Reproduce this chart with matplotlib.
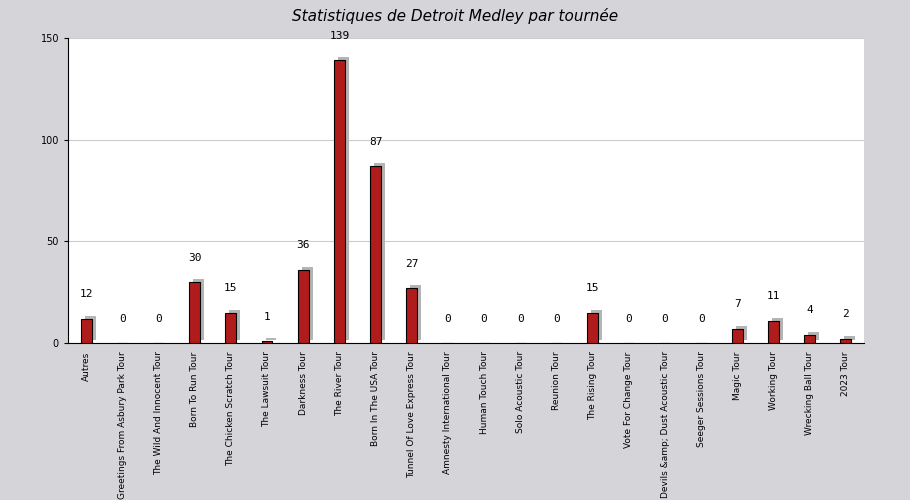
import matplotlib
matplotlib.use("Agg")
import matplotlib.pyplot as plt
from matplotlib.transforms import ScaledTranslation

categories = ["Autres", "Greetings From Asbury Park Tour", "The Wild And Innocent Tour",
              "Born To Run Tour", "The Chicken Scratch Tour", "The Lawsuit Tour",
              "Darkness Tour", "The River Tour", "Born In The USA Tour",
              "Tunnel Of Love Express Tour", "Amnesty International Tour", "Human Touch Tour",
              "Solo Acoustic Tour", "Reunion Tour", "The Rising Tour", "Vote For Change Tour",
              "Devils &amp; Dust Acoustic Tour", "Seeger Sessions Tour", "Magic Tour",
              "Working Tour", "Wrecking Ball Tour", "2023 Tour"]
values = [12, 0, 0, 30, 15, 1, 36, 139, 87, 27, 0, 0, 0, 0, 15, 0, 0, 0, 7, 11, 4, 2]
yticks = [0, 50, 100, 150]

fig = plt.figure(figsize=(9.10, 5.00), dpi=100, facecolor="#d5d4d9")
ax = fig.add_axes([68/910, 1-343/500, (864-68)/910, (343-38)/500])
ax.set_facecolor("white")
x = list(range(len(categories)))
shadow = ScaledTranslation(4/100, 3/100, fig.dpi_scale_trans)
ax.bar(x, values, width=0.3, color="#b4b4b4", transform=ax.transData + shadow, zorder=2)
ax.bar(x, values, width=0.3, color="#b01c1c", edgecolor="black", linewidth=0.8, zorder=3)
for xi, v in zip(x, values):
    ax.annotate(str(v), (xi, v), xytext=(0, 14), textcoords="offset points",
                ha="center", va="bottom", fontsize=8, family="DejaVu Sans Mono")
ax.set_xlim(-0.5, len(categories)-0.5)
ax.set_ylim(0, 150)
ax.set_yticks(yticks)
ax.set_yticklabels([str(t) for t in yticks], fontsize=7)
ax.set_xticks(x)
ax.set_xticklabels(categories, rotation=90, fontsize=6.5)
ax.grid(axis="y", color="#cccccc", linewidth=0.8, zorder=0)
ax.set_axisbelow(True)
for s in ["top", "right"]:
    ax.spines[s].set_visible(False)
ax.tick_params(axis="x", length=0, pad=6)
ax.tick_params(axis="y", length=3)
fig.suptitle("Statistiques de Detroit Medley par tournée", y=0.985, fontsize=11, style="italic")
fig.savefig("out.png", dpi=100, facecolor=fig.get_facecolor())
